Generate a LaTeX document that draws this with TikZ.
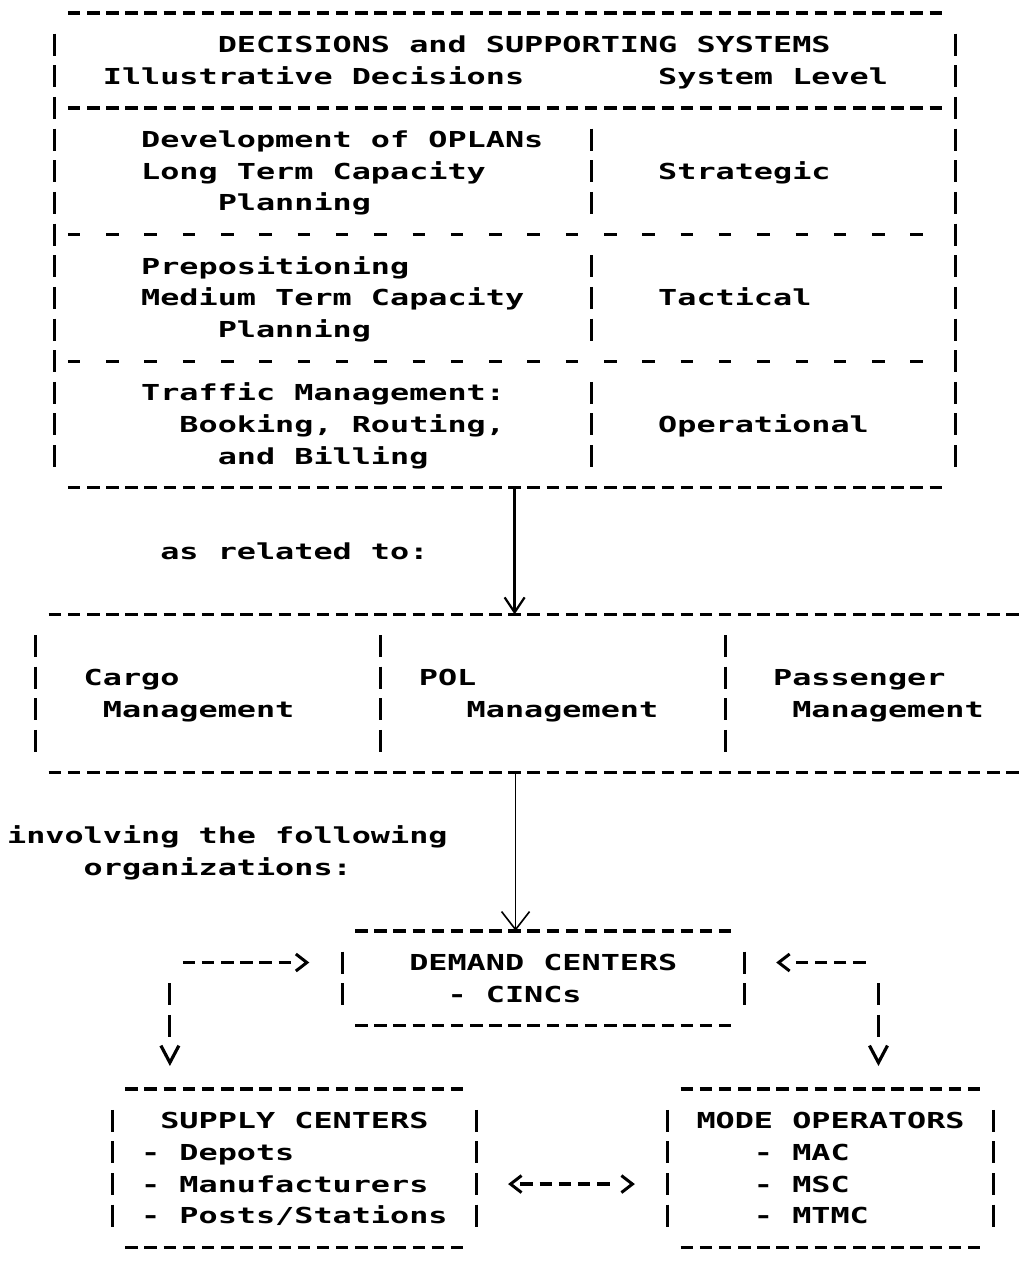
\documentclass[tikz,border=0pt]{standalone}
\usepackage{fontspec}
\newfontfamily\tw[FakeStretch=1.446]{DejaVu Sans Mono}
\usetikzlibrary{arrows.meta,calc}
\tikzset{
  txt/.style={anchor=base west, inner sep=0pt, outer sep=0pt, yshift=-8pt,
    font=\tw\bfseries\fontsize{22pt}{22pt}\selectfont},
  hd/.style={line width=3.3pt, dash pattern=on 12.5pt off 6.65pt},
  hdsp/.style={line width=3.3pt, dash pattern=on 12.5pt off 25.8pt},
  vb/.style={line width=3pt, dash pattern=on 22pt off 9.65pt},
  chevtip/.tip={Straight Barb[length=11pt,width=17pt,line width=3pt]},
  veetip/.tip={Straight Barb[length=17pt,width=18pt,line width=3.2pt]},
  vconn/.style={line width=3pt, dash pattern=on 22pt off 9.65pt on 22pt off 80pt, -veetip},
  solidarrow/.style={line width=2.4pt, -{Straight Barb[length=15pt,width=20pt,line width=2.2pt]}},
  thinarrow/.style={line width=1.2pt, -{Straight Barb[length=18pt,width=28pt,line width=1.6pt]}},
}
\newcommand\hrow[3]{\draw[hd] ({#1-0.328},{#3}) -- ({#2+0.5},{#3});}
\newcommand\vcol[3]{\draw[vb] ({#1},{#2-0.3476}) -- ({#1},{#3+0.3476});}
\begin{document}
\begin{tikzpicture}[x=19.15pt,y=-31.65pt]
\useasboundingbox (-0.872,-0.4107) rectangle (52.862,39.431);
\fill[white] (-0.872,-0.4107) rectangle (52.862,39.431);

% ---------- top box ----------
\hrow{3}{48}{0}
\hrow{3}{48}{3}
\draw[hdsp] (2.672,7) -- (47.5,7);
\draw[hdsp] (2.672,11) -- (47.5,11);
\hrow{3}{48}{15}
\vcol{2}{1}{14}
\vcol{49}{1}{14}
\vcol{30}{4}{6}
\vcol{30}{8}{10}
\vcol{30}{12}{14}

\node[txt] (title) at (10.5,1) {DECISIONS and SUPPORTING SYSTEMS};
\node[txt] (hdA) at (4.5,2) {Illustrative Decisions};
\node[txt] (hdB) at (33.5,2) {System Level};
\node[txt] (d1a) at (6.5,4) {Development of OPLANs};
\node[txt] (d1b) at (6.5,5) {Long Term Capacity};
\node[txt] (d1c) at (10.5,6) {Planning};
\node[txt] (l1) at (33.5,5) {Strategic};
\node[txt] (d2a) at (6.5,8) {Prepositioning};
\node[txt] (d2b) at (6.5,9) {Medium Term Capacity};
\node[txt] (d2c) at (10.5,10) {Planning};
\node[txt] (l2) at (33.5,9) {Tactical};
\node[txt] (d3a) at (6.5,12) {Traffic Management:};
\node[txt] (d3b) at (8.5,13) {Booking, Routing,};
\node[txt] (d3c) at (10.5,14) {and Billing};
\node[txt] (l3) at (33.5,13) {Operational};

\node[txt] (rel) at (7.5,17) {as related to:};

% ---------- middle box ----------
\hrow{2}{52}{19}
\hrow{2}{52}{24}
\vcol{1}{20}{23}
\vcol{19}{20}{23}
\vcol{37}{20}{23}
\node[txt] (cargo) at (3.5,21) {Cargo};
\node[txt] (cargoM) at (4.5,22) {Management};
\node[txt] (pol) at (21,21) {POL};
\node[txt] (polM) at (23.5,22) {Management};
\node[txt] (pass) at (39.5,21) {Passenger};
\node[txt] (passM) at (40.5,22) {Management};

\node[txt] (inv1) at (-0.5,26) {involving the following};
\node[txt] (inv2) at (3.5,27) {organizations:};

% ---------- demand box ----------
\hrow{18}{37}{29}
\hrow{18}{37}{32}
\vcol{17}{30}{31}
\vcol{38}{30}{31}
\node[txt] (demand) at (20.5,30) {DEMAND CENTERS};
\node[txt] (cincs) at (22.5,31) {- CINCs};

% ---------- supply box ----------
\hrow{6}{23}{34}
\hrow{6}{23}{39}
\vcol{5}{35}{38}
\vcol{24}{35}{38}
\node[txt] (supply) at (7.5,35) {SUPPLY CENTERS};
\node[txt] (s1) at (6.5,36) {- Depots};
\node[txt] (s2) at (6.5,37) {- Manufacturers};
\node[txt] (s3) at (6.5,38) {- Posts/Stations};

% ---------- mode box ----------
\hrow{35}{50}{34}
\hrow{35}{50}{39}
\vcol{34}{35}{38}
\vcol{51}{35}{38}
\node[txt] (mode) at (35.5,35) {MODE OPERATORS};
\node[txt] (m1) at (38.5,36) {- MAC};
\node[txt] (m2) at (38.5,37) {- MSC};
\node[txt] (m3) at (38.5,38) {- MTMC};

% ---------- connectors ----------
\coordinate (topOut) at (26,15);
\coordinate (midIn) at (26,19);
\coordinate (midOut) at (26.05,24);
\coordinate (demIn) at (26.05,29);
\draw[solidarrow] (topOut) -- (midIn);
\draw[thinarrow] (midOut) -- (demIn);

\coordinate (lH) at (8.672,30);
\coordinate (demW) at (15.28,30);
\coordinate (lV) at (8,30.6524);
\coordinate (supN) at (8,33.27);
\draw[line width=3.3pt, dash pattern=on 12.5pt off 6.65pt on 12.5pt off 6.65pt on 12.5pt off 6.65pt on 12.5pt off 6.65pt on 12.5pt off 6.65pt on 12.5pt off 60pt, -chevtip] (lH) -- (demW);
\draw[vconn] (lV) -- (supN);

\coordinate (rH) at (44.325,30);
\coordinate (demE) at (39.66,30);
\coordinate (rV) at (45,30.6524);
\coordinate (modN) at (45,33.27);
\draw[line width=3.3pt, dash pattern=on 12.5pt off 6.65pt on 12.5pt off 6.65pt on 12.5pt off 6.65pt on 12.5pt off 60pt, -chevtip] (rH) -- (demE);
\draw[vconn] (rV) -- (modN);

\coordinate (supE) at (25.66,37);
\coordinate (modW) at (32.28,37);
\draw[line width=3.3pt, dash pattern=on 0pt off 8.4pt on 12.5pt off 6.65pt on 12.5pt off 6.65pt on 12.5pt off 6.65pt on 12.5pt off 6.65pt on 12.5pt off 60pt, chevtip-chevtip] (supE) -- (modW);
\end{tikzpicture}
\end{document}
